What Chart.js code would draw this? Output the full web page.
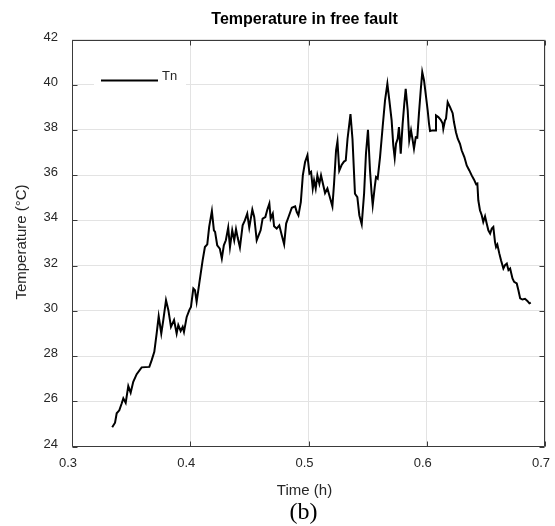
<!DOCTYPE html>
<html>
<head>
<meta charset="utf-8">
<title>Temperature in free fault</title>
<script src="https://cdn.jsdelivr.net/npm/chart.js@4/dist/chart.umd.min.js"></script>
<style>
  html, body { margin: 0; padding: 0; background: #ffffff; }
  #wrap { position: relative; width: 555px; height: 526px; }
</style>
</head>
<body>
<div id="wrap"><canvas id="chart" width="555" height="526"></canvas></div>
<script>
// Sensor trace: elapsed time (hours) and temperature Tn (°C)
const timeH = [
  0.334, 0.3364, 0.3378, 0.340, 0.342, 0.3434, 0.3454, 0.3476, 0.3496, 0.3518,
  0.3547, 0.3589, 0.3654, 0.3674, 0.3696, 0.3716, 0.3733, 0.3755, 0.3772, 0.3795,
  0.3815, 0.3837, 0.3863, 0.3885, 0.3899, 0.3919, 0.3936, 0.3947, 0.397, 0.3992,
  0.4006, 0.4026, 0.404, 0.4054, 0.4076, 0.4105, 0.4124, 0.4144, 0.416, 0.4183,
  0.420, 0.421, 0.4228, 0.425, 0.4267, 0.4284, 0.4301, 0.4321, 0.4336, 0.4355,
  0.4372, 0.4387, 0.4401, 0.442, 0.4443, 0.4462, 0.4482, 0.4499, 0.4525, 0.4541,
  0.4562, 0.4578, 0.4595, 0.4612, 0.4635, 0.4652, 0.4669, 0.468, 0.4698, 0.4709,
  0.4731, 0.4753, 0.4774, 0.4794, 0.4811, 0.4831, 0.4859, 0.4887, 0.4901, 0.4915,
  0.4935, 0.4952, 0.4971, 0.4991, 0.5008, 0.5022, 0.5036, 0.5047, 0.5061, 0.5075,
  0.5092, 0.5106, 0.5125, 0.514, 0.516, 0.5176, 0.5202, 0.5216, 0.5233, 0.5245,
  0.526, 0.528, 0.530, 0.5315, 0.533, 0.5355, 0.5372, 0.5393, 0.5413, 0.543,
  0.545, 0.547, 0.5486, 0.5503, 0.552, 0.5534, 0.5543, 0.556, 0.5571, 0.5585,
  0.5605, 0.5627, 0.5647, 0.5667, 0.5684, 0.5703, 0.5717, 0.5729, 0.574, 0.5754,
  0.5765, 0.578, 0.5796, 0.581, 0.5822, 0.5839, 0.5852, 0.5867, 0.5881, 0.5892,
  0.5907, 0.592, 0.5934, 0.5949, 0.5962, 0.5977, 0.5991, 0.6008, 0.6019, 0.6028,
  0.605, 0.607, 0.6078, 0.6098, 0.6118, 0.6135, 0.614, 0.6154, 0.6163, 0.6177,
  0.6197, 0.6219, 0.623, 0.6247, 0.6262, 0.6281, 0.6295, 0.6318, 0.6338, 0.636,
  0.638, 0.640, 0.6417, 0.6428, 0.6436, 0.645, 0.6465, 0.6478, 0.6493, 0.6507,
  0.6521, 0.6536, 0.655, 0.6563, 0.6577, 0.6586, 0.6597, 0.6614, 0.6628, 0.6648,
  0.6662, 0.6677, 0.6691, 0.6705, 0.6725, 0.6739, 0.6761, 0.6775, 0.679, 0.6809,
  0.6831, 0.6851, 0.6868, 0.688
];
const tempTn = [
  24.85, 25.05, 25.47, 25.6, 25.9, 26.13, 25.93, 26.67, 26.38, 26.86,
  27.2, 27.5, 27.52, 27.82, 28.19, 29.0, 29.76, 29.0, 29.59, 30.47,
  30.03, 29.29, 29.59, 29.0, 29.37, 29.11, 29.29, 29.07, 29.73, 30.03,
  30.17, 30.99, 30.91, 30.4, 31.2, 32.24, 32.82, 32.94, 33.71, 34.41,
  33.56, 33.49, 32.9, 32.75, 32.31, 32.9, 33.12, 33.68, 32.82, 33.56,
  33.12, 33.61, 33.24, 32.8, 33.78, 34.0, 34.3, 33.68, 34.48, 34.15,
  33.12, 33.34, 33.56, 34.08, 34.15, 34.48, 34.74, 34.08, 34.3, 33.74,
  33.64, 33.78, 33.34, 32.94, 33.86, 34.15, 34.56, 34.62, 34.37, 34.22,
  34.81, 35.99, 36.58, 36.88, 36.07, 36.14, 35.41, 35.77, 35.41, 35.99,
  35.62, 35.99, 35.55, 35.21, 35.41, 35.11, 34.62, 35.62, 37.1, 37.5,
  36.2, 36.45, 36.6, 36.65, 37.6, 38.7, 37.6, 35.18, 35.03, 34.22,
  33.83, 35.18, 36.95, 38.01, 36.21, 35.18, 34.67, 35.47, 35.92, 35.85,
  36.8, 38.13, 39.3, 40.04, 39.3, 38.42, 37.32, 36.77, 37.39, 37.61,
  38.13, 36.95, 38.27, 39.16, 39.82, 38.86, 37.54, 37.98, 37.54, 37.17,
  37.68, 37.66, 38.72, 39.75, 40.56, 40.19, 39.6, 38.86, 38.28, 37.95,
  37.98, 37.98, 38.64, 38.57, 38.45, 38.28, 38.05, 38.42, 38.5, 39.23,
  39.01, 38.74, 38.35, 37.9, 37.61, 37.39, 37.1, 36.8, 36.43, 36.21,
  35.99, 35.8, 35.6, 35.63, 34.89, 34.45, 34.23, 33.93, 34.18, 33.86,
  33.56, 33.42, 33.64, 33.71, 33.05, 32.82, 32.93, 32.53, 32.24, 31.87,
  32.02, 32.09, 31.8, 31.87, 31.43, 31.28, 31.21, 30.91, 30.55, 30.5,
  30.53, 30.44, 30.33, 30.36
];

// Axis ranges and tick spacing
const xRange = [0.3, 0.7];
const xStep = 0.1;
const yRange = [24, 42];
const yStep = 2;

const seriesName = 'Tn';
const chartTitle = 'Temperature in free fault';
const xTitle = 'Time (h)';
const yTitle = 'Temperature (°C)';
const panelTag = '(b)';

const SANS = '"Liberation Sans", Arial, Helvetica, sans-serif';
const SERIF = '"Liberation Serif", "Times New Roman", serif';
const INK = '#262626';

const points = timeH.map((t, i) => ({ x: t, y: tempTn[i] }));

// Box around the axes with inward tick marks on all four sides
const axesBox = {
  id: 'axesBox',
  afterDatasetsDraw(chart) {
    const { ctx, chartArea: a, scales } = chart;
    ctx.save();
    ctx.strokeStyle = '#3a3a3a';
    ctx.lineWidth = 1;
    const L = Math.round(a.left) + 0.5, R = Math.round(a.right) - 0.5;
    const T = Math.round(a.top) + 0.5, B = Math.round(a.bottom) - 0.5;
    ctx.beginPath();
    ctx.rect(L, T, R - L, B - T);
    ctx.stroke();
    const len = 5;
    ctx.beginPath();
    scales.x.ticks.forEach(tk => {
      const px = Math.round(scales.x.getPixelForValue(tk.value)) + 0.5;
      ctx.moveTo(px, B); ctx.lineTo(px, B - len);
      ctx.moveTo(px, T); ctx.lineTo(px, T + len);
    });
    scales.y.ticks.forEach(tk => {
      const py = Math.round(scales.y.getPixelForValue(tk.value)) + 0.5;
      ctx.moveTo(L, py); ctx.lineTo(L + len, py);
      ctx.moveTo(R, py); ctx.lineTo(R - len, py);
    });
    ctx.stroke();
    ctx.restore();
  }
};

// Legend box in the upper-left of the axes
const insetLegend = {
  id: 'insetLegend',
  afterDatasetsDraw(chart) {
    const { ctx, chartArea: a } = chart;
    const ds = chart.data.datasets[0];
    const x0 = a.left + 22, y0 = a.top + 27;
    ctx.save();
    ctx.fillStyle = '#ffffff';
    ctx.fillRect(x0, y0, 92, 30);
    ctx.strokeStyle = ds.borderColor;
    ctx.lineWidth = ds.borderWidth;
    ctx.beginPath();
    ctx.moveTo(x0 + 7, y0 + 14);
    ctx.lineTo(x0 + 64, y0 + 14);
    ctx.stroke();
    ctx.fillStyle = INK;
    ctx.font = '13px ' + SANS;
    ctx.textAlign = 'left';
    ctx.textBaseline = 'middle';
    ctx.fillText(ds.label, x0 + 68, y0 + 10);
    ctx.restore();
  }
};

// Chart title, axis titles and panel tag
const captions = {
  id: 'captions',
  afterDraw(chart) {
    const { ctx, chartArea: a } = chart;
    const cx = (a.left + a.right) / 2;
    const cy = (a.top + a.bottom) / 2;
    ctx.save();
    ctx.fillStyle = '#000000';
    ctx.textAlign = 'center';
    ctx.textBaseline = 'middle';
    ctx.font = 'bold 16px ' + SANS;
    ctx.fillText(chartTitle, cx - 4, 20);
    ctx.fillStyle = INK;
    ctx.font = '15px ' + SANS;
    ctx.fillText(xTitle, cx - 4, 491);
    ctx.save();
    ctx.translate(22, cy - 1);
    ctx.rotate(-Math.PI / 2);
    ctx.fillText(yTitle, 0, 0);
    ctx.restore();
    ctx.fillStyle = '#000000';
    ctx.font = '24px ' + SERIF;
    ctx.fillText(panelTag, cx - 5, 513);
    ctx.restore();
  }
};

new Chart(document.getElementById('chart'), {
  type: 'scatter',
  data: {
    datasets: [{
      label: seriesName,
      data: points,
      showLine: true,
      borderColor: '#000000',
      backgroundColor: '#000000',
      borderWidth: 2,
      pointRadius: 0,
      tension: 0
    }]
  },
  options: {
    responsive: false,
    animation: false,
    devicePixelRatio: 1,
    layout: { padding: { top: 39.5, right: 10, left: 0, bottom: 0 } },
    plugins: {
      legend: { display: false },
      title: { display: false },
      tooltip: { enabled: false }
    },
    scales: {
      x: {
        type: 'linear',
        min: xRange[0],
        max: xRange[1],
        afterFit(scale) {
          scale.height = 79.5;
          scale.paddingLeft = 0;
          scale.paddingRight = 0;
        },
        grid: { color: '#e3e3e3', drawTicks: false, lineWidth: 1 },
        border: { display: false },
        ticks: {
          stepSize: xStep,
          padding: 9,
          labelOffset: -4,
          color: INK,
          font: { family: SANS, size: 13 },
          callback: v => Number(v.toFixed(1)).toString()
        }
      },
      y: {
        type: 'linear',
        min: yRange[0],
        max: yRange[1],
        afterFit(scale) {
          scale.width = 72;
          scale.paddingTop = 0;
          scale.paddingBottom = 0;
        },
        grid: { color: '#e3e3e3', drawTicks: false, lineWidth: 1 },
        border: { display: false },
        ticks: {
          stepSize: yStep,
          padding: 14,
          labelOffset: -2.5,
          color: INK,
          font: { family: SANS, size: 13 }
        }
      }
    }
  },
  plugins: [axesBox, insetLegend, captions]
});
</script>
</body>
</html>
